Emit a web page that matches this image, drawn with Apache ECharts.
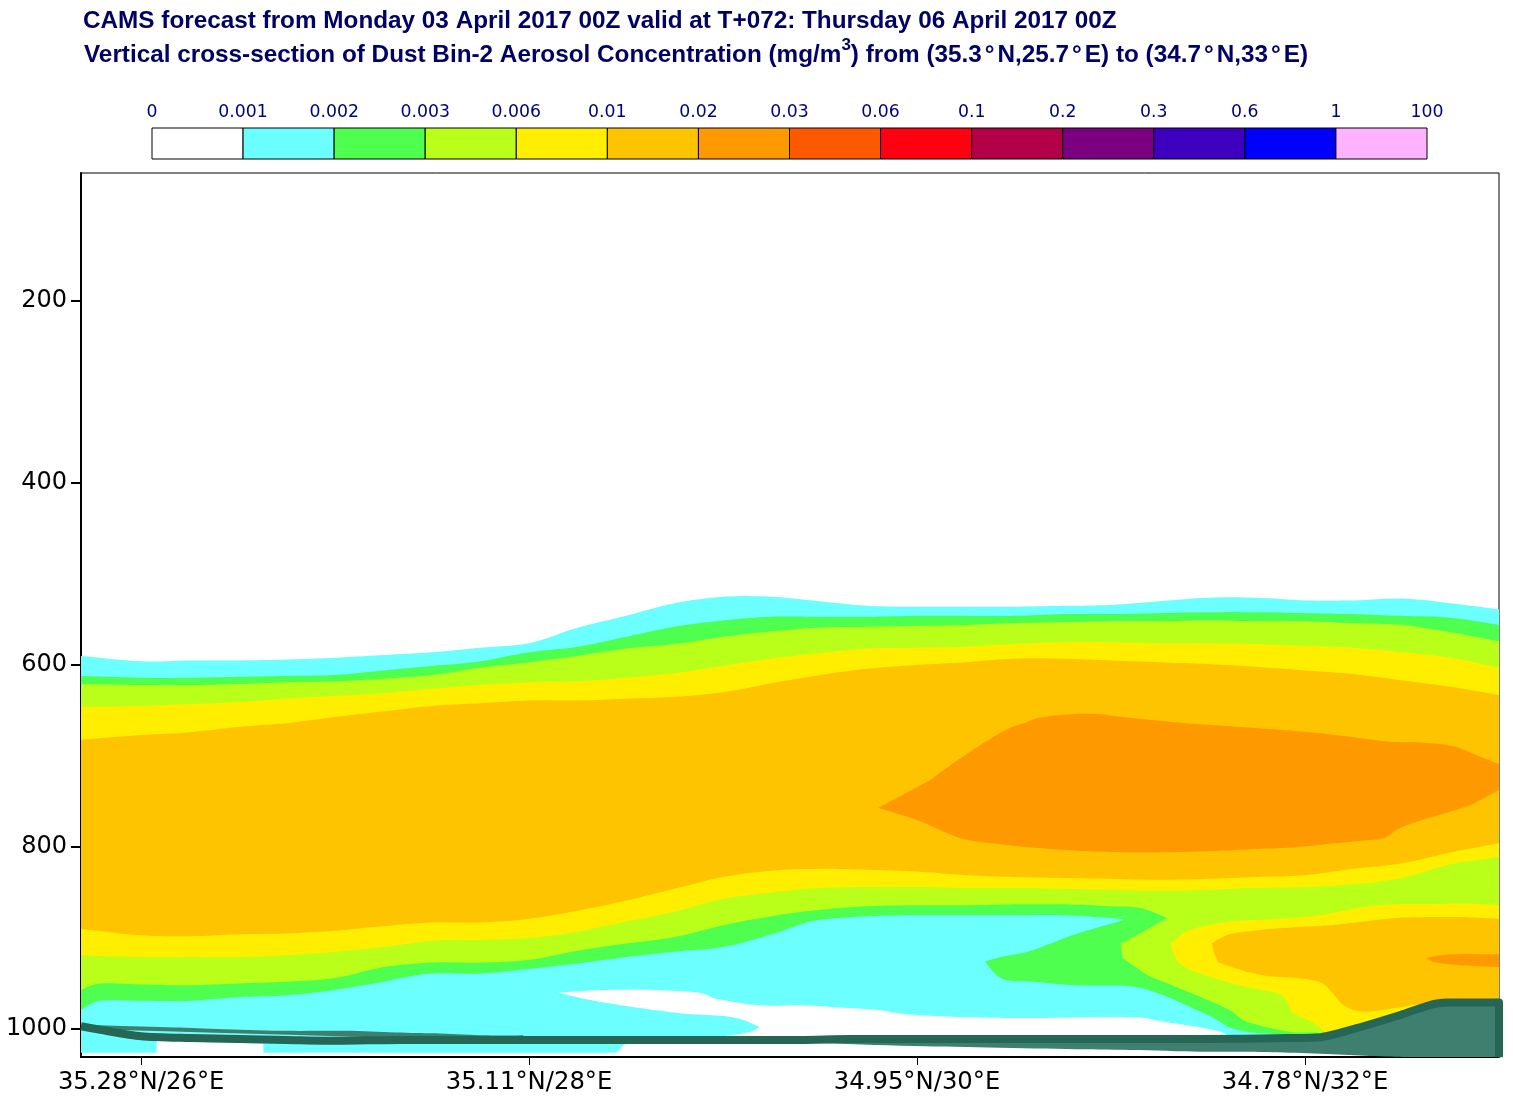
<!DOCTYPE html>
<html>
<head>
<meta charset="utf-8">
<title>CAMS dust cross-section</title>
<script src="https://cdn.jsdelivr.net/npm/echarts@6/dist/echarts.min.js"></script>
<style>
  html, body { margin: 0; padding: 0; background: #fff; }
  #chart { width: 1513px; height: 1101px; }
</style>
</head>
<body>
<div id="chart"></div>
<script>
// colour bar
const levels = ['0', '0.001', '0.002', '0.003', '0.006', '0.01', '0.02', '0.03', '0.06', '0.1', '0.2', '0.3', '0.6', '1', '100'];
const levelColors = ['#ffffff', '#6bffff', '#4fff4f', '#baff1a', '#ffee00', '#ffc400', '#ff9900', '#ff5900', '#ff0010', '#b30047', '#7a0080', '#3d00bf', '#0000ff', '#ffb3ff'];

// axes
const pressureTicks = [200, 400, 600, 800, 1000];
const lonTicks = [26, 28, 30, 32];
const lonTickLabels = ['35.28°N/26°E', '35.11°N/28°E', '34.95°N/30°E', '34.78°N/32°E'];

// longitudes shared by the long contours, pressures below are hPa read at these columns
const lons = [25.69, 26, 26.25, 26.5, 26.75, 27, 27.25, 27.5, 27.75, 28, 28.25, 28.5, 28.75, 29, 29.25, 29.5, 29.75, 30, 30.25, 30.5, 30.75, 31, 31.25, 31.5, 31.75, 32, 32.25, 32.5, 32.75, 33];

const cyanTop = [590, 596, 595, 595, 594, 592, 589, 586, 581, 576, 559, 546, 532, 525, 525, 530, 535, 536, 536, 536, 535, 534, 530, 526, 526, 529, 529, 527, 532, 539];
const greenTop = [612, 614, 614, 613, 612, 611, 606, 601, 596, 586, 580, 569, 558, 551, 547, 547, 547, 546, 546, 546, 544, 544, 543, 542, 542, 543, 544, 546, 548, 556];
const limeTop = [621, 622, 622, 621, 619, 618, 615, 611, 603, 597, 590, 582, 577, 569, 563, 559, 558, 557, 556, 554, 553, 552, 552, 551, 552, 552, 554, 556, 564, 574];
const yellowTop = [646, 645, 643, 641, 637, 634, 631, 626, 622, 619, 618, 614, 609, 601, 593, 587, 582, 581, 580, 577, 575, 575, 576, 576, 577, 579, 581, 586, 592, 603];
const orangeTop = [682, 677, 674, 668, 664, 657, 651, 645, 642, 639, 639, 637, 635, 630, 620, 611, 604, 600, 597, 593, 593, 595, 597, 599, 602, 606, 610, 617, 624, 633];
const orangeBottom = [890, 897, 898, 896, 895, 892, 887, 883, 883, 879, 870, 859, 846, 833, 826, 824, 825, 827, 831, 833, 834, 835, 836, 835, 833, 831, 824, 818, 806, 796];
const yellowBottom = [919, 921, 921, 921, 919, 915, 910, 903, 902, 900, 893, 882, 871, 857, 850, 845, 844, 844, 845, 845, 846, 847, 848, 847, 845, 844, 841, 834, 819, 811];

// lower edges and closed shapes, [lon, hPa]
const cyanLower = [[33, 974], [32.13, 1008], [31.68, 1007], [31.61, 1007], [31.53, 1001], [31.27, 992], [31.1, 987], [30.6, 988], [30.26, 987], [29.96, 984], [29.79, 979], [29.57, 976], [29.4, 974], [29.19, 974], [28.97, 967], [28.87, 960], [28.61, 957], [28.42, 957], [28.3, 958], [28.15, 960], [28.31, 968], [28.54, 976], [28.79, 983], [29.05, 987], [29.19, 998], [29.14, 1003], [29.04, 1007], [28.83, 1012], [28.49, 1017], [28.45, 1026], [26.63, 1026], [26.63, 1016], [26.08, 1013], [26.08, 1026], [25.69, 1026]];
const greenLower = [[33, 974], [32.13, 1008], [31.87, 1006], [31.7, 1003], [31.61, 998], [31.53, 988], [31.44, 979], [31.27, 963], [31.1, 953], [30.82, 952], [30.6, 948], [30.44, 945], [30.35, 926], [30.43, 921], [30.57, 915], [30.69, 906], [30.8, 897], [30.94, 888], [31.07, 880], [31, 878], [30.75, 875], [30.5, 875], [30.25, 875], [30, 875], [29.75, 876], [29.5, 880], [29.4, 885], [29.25, 896], [29, 910], [28.75, 915], [28.5, 921], [28.25, 928], [28, 934], [27.75, 939], [27.5, 939], [27.34, 944], [27.25, 948], [27, 957], [26.75, 963], [26.5, 965], [26.25, 969], [26, 969], [25.79, 969], [25.69, 979]];
const limeLower = [[33, 974], [32.13, 1008], [32.06, 1004], [31.92, 1003], [31.7, 992], [31.61, 979], [31.44, 963], [31.27, 948], [31.19, 941], [31.1, 928], [31.06, 922], [31.05, 906], [31.15, 895], [31.29, 878], [31.15, 867], [31, 865], [30.75, 863], [30.5, 863], [30.25, 864], [30, 864], [29.75, 865], [29.5, 869], [29.25, 876], [29, 886], [28.75, 899], [28.5, 906], [28.25, 914], [28, 924], [27.75, 927], [27.5, 927], [27.25, 932], [27, 944], [26.75, 948], [26.5, 950], [26.25, 952], [26, 951], [25.79, 950], [25.69, 957]];
const deepIsland = [[29.8, 757], [29.94, 741], [30.07, 726], [30.12, 718], [30.29, 693], [30.46, 671], [30.55, 664], [30.63, 658], [30.79, 654], [30.94, 654], [31.05, 657], [31.39, 664], [31.73, 669], [32.08, 675], [32.42, 684], [32.59, 685], [32.76, 689], [32.85, 696], [33, 709], [33, 737], [32.85, 754], [32.64, 768], [32.49, 779], [32.41, 790], [32.3, 793], [31.96, 800], [31.78, 802], [31.44, 805], [31.1, 806], [30.74, 803], [30.43, 797], [30.22, 790], [30.02, 772]];
const innerYellow = [[33, 864], [32.81, 862], [32.64, 863], [32.47, 863], [32.3, 866], [32.13, 873], [32, 877], [31.78, 880], [31.61, 882], [31.44, 889], [31.36, 897], [31.31, 906], [31.33, 921], [31.38, 932], [31.53, 944], [31.7, 954], [31.86, 961], [31.91, 971], [31.93, 982], [32.04, 993], [32.13, 1008], [33, 974]];
const innerOrange = [[33, 879], [32.81, 877], [32.64, 877], [32.47, 878], [32.3, 882], [32.13, 886], [31.96, 888], [31.78, 891], [31.61, 896], [31.52, 906], [31.54, 921], [31.58, 929], [31.78, 941], [31.96, 944], [32.08, 949], [32.14, 960], [32.2, 974], [32.3, 981], [32.47, 977], [32.63, 972], [33, 971]];
const innerDeep = [[33, 918], [32.75, 918], [32.62, 922], [32.68, 927], [32.81, 930], [33, 932]];
const groundFill = [[25.69, 995], [25.79, 996], [26.13, 998], [26.39, 1000], [26.73, 1002], [27.08, 1002], [27.34, 1004], [27.54, 1005], [27.78, 1007], [27.97, 1007], [27.98, 1012], [29.85, 1012], [31.92, 1012], [32.08, 1010], [32.3, 997], [32.47, 985], [32.64, 974], [32.73, 971], [33, 971], [33, 1031], [32.61, 1031], [32.39, 1030], [32.17, 1028], [31.92, 1026], [31.68, 1025], [31.46, 1025], [31.1, 1023], [30.77, 1022], [30.31, 1020], [29.85, 1018], [29.19, 1014], [27.98, 1013], [25.69, 1000]];
const groundLine = [[25.69, 997], [25.79, 1001], [26, 1008], [26.25, 1010], [26.5, 1011], [26.75, 1012], [27, 1013], [27.34, 1012], [27.6, 1012], [28, 1012], [28.37, 1012], [29.4, 1012], [29.65, 1011], [30.43, 1011], [31.46, 1011], [31.92, 1010], [32.08, 1009], [32.3, 997], [32.47, 986], [32.64, 974], [32.73, 971], [33, 971], [33, 1031]];

function column(values) {
  return values.map((p, i) => [lons[i], p]);
}

// painted back to front, white stays as the page background
const bands = [
  { color: levelColors[1], points: column(cyanTop).concat(cyanLower) },
  { color: levelColors[2], points: column(greenTop).concat(greenLower) },
  { color: levelColors[3], points: column(limeTop).concat(limeLower) },
  { color: levelColors[4], points: column(yellowTop).concat(column(yellowBottom).reverse()) },
  { color: levelColors[5], points: column(orangeTop).concat(column(orangeBottom).reverse()) },
  { color: levelColors[6], points: deepIsland },
  { color: levelColors[4], points: innerYellow },
  { color: levelColors[5], points: innerOrange },
  { color: levelColors[6], points: innerDeep },
  { color: '#3f7f6f', points: groundFill }
];

// round a closed outline on screen, keeping the sharp tips and corners
function roundOutline(pts) {
  const n = pts.length;
  const at = i => pts[(i + n) % n];
  const isCorner = i => {
    const a = at(i - 1), b = at(i), c = at(i + 1);
    const u = [b[0] - a[0], b[1] - a[1]], v = [c[0] - b[0], c[1] - b[1]];
    const cos = (u[0] * v[0] + u[1] * v[1]) / (Math.hypot(u[0], u[1]) * Math.hypot(v[0], v[1]) || 1);
    return cos < 0.75;
  };
  const out = [];
  for (let i = 0; i < n; i++) {
    const p1 = at(i), p2 = at(i + 1);
    const p0 = isCorner(i) ? p1 : at(i - 1);
    const p3 = isCorner(i + 1) ? p2 : at(i + 2);
    for (let s = 0; s < 8; s++) {
      const t = s / 8, t2 = t * t, t3 = t2 * t;
      out.push([0, 1].map(k => 0.5 * (2 * p1[k] + (p2[k] - p0[k]) * t +
        (2 * p0[k] - 5 * p1[k] + 4 * p2[k] - p3[k]) * t2 +
        (3 * p1[k] - p0[k] - 3 * p2[k] + p3[k]) * t3)));
    }
  }
  return out;
}

const navy = '#000066';
const titleFont = 'Liberation Sans';
const titleRun = { color: navy, fontFamily: titleFont, fontWeight: 'bold', fontSize: 24.3, verticalAlign: 'bottom', lineHeight: 30 };

const chart = echarts.init(document.getElementById('chart'), null, { renderer: 'canvas' });

chart.setOption({
  animation: false,
  backgroundColor: '#fff',
  title: [
    {
      text: 'CAMS forecast from Monday 03 April 2017 00Z valid at T+072: Thursday 06 April 2017 00Z',
      left: 83, top: 9, padding: 0,
      textStyle: { color: navy, fontFamily: titleFont, fontWeight: 'bold', fontSize: 24.3 }
    },
    {
      text: '{a|Vertical cross-section of Dust Bin-2 Aerosol Concentration (mg/m}{sup|3}{a|) from (35.3}{deg|°}{a|N,25.7}{deg|°}{a|E) to (34.7}{deg|°}{a|N,33}{deg|°}{a|E)}',
      left: 84, top: 37, padding: 0,
      textStyle: {
        rich: {
          a: titleRun,
          deg: Object.assign({}, titleRun, { padding: [0, 3, 0, 3] }),
          sup: { color: navy, fontFamily: titleFont, fontWeight: 'bold', fontSize: 17, verticalAlign: 'top', lineHeight: 24 }
        }
      }
    }
  ],
  grid: [
    { left: 81, top: 173, width: 1418, height: 884, show: true, borderColor: '#000', borderWidth: 1, backgroundColor: '#fff' },
    { left: 152, top: 128, width: 1275, height: 31 }
  ],
  xAxis: [
    {
      type: 'value', gridIndex: 0, min: 25.69, max: 33,
      splitLine: { show: false },
      axisLine: { show: true, onZero: false, lineStyle: { color: '#000', width: 2 } },
      axisTick: { show: true, length: 8, customValues: lonTicks, lineStyle: { color: '#000', width: 1 } },
      axisLabel: {
        customValues: lonTicks, color: '#000', fontFamily: 'DejaVu Sans', fontSize: 24.3, margin: 14,
        formatter: v => lonTickLabels[lonTicks.indexOf(v)]
      }
    },
    {
      type: 'value', gridIndex: 1, min: 0, max: 14, interval: 1, position: 'top',
      splitLine: { show: false }, axisLine: { show: false }, axisTick: { show: false },
      axisLabel: {
        color: '#000080', fontFamily: 'DejaVu Sans', fontSize: 17.3, margin: 7,
        formatter: v => levels[v]
      }
    }
  ],
  yAxis: [
    {
      type: 'value', gridIndex: 0, inverse: true, min: 59.3, max: 1030.8,
      splitLine: { show: false },
      axisLine: { show: true, onZero: false, lineStyle: { color: '#000', width: 2 } },
      axisTick: { show: true, length: 10, customValues: pressureTicks, lineStyle: { color: '#000', width: 2 } },
      axisLabel: {
        customValues: pressureTicks, color: '#000', fontFamily: 'DejaVu Sans', fontSize: 24, margin: 14,
        formatter: v => String(v), padding: [5, 0, 0, 0]
      }
    },
    { type: 'value', gridIndex: 1, min: 0, max: 1, show: false }
  ],
  series: [
    {
      type: 'custom', xAxisIndex: 0, yAxisIndex: 0, clip: true, silent: true,
      data: bands.map((b, i) => [b.points[0][0], b.points[0][1], i]),
      renderItem(params, api) {
        const band = bands[api.value(2)];
        return {
          type: 'polygon',
          shape: { points: roundOutline(band.points.map(p => api.coord(p))) },
          style: { fill: band.color, stroke: null }
        };
      },
      z: 2
    },
    {
      type: 'line', xAxisIndex: 0, yAxisIndex: 0, data: groundLine, clip: false, silent: true,
      showSymbol: false, smooth: 0.25,
      lineStyle: { color: '#266655', width: 8, join: 'round', cap: 'butt' },
      z: 3
    },
    {
      type: 'custom', xAxisIndex: 1, yAxisIndex: 1, silent: true,
      data: levelColors.map((c, i) => [i, 1]),
      renderItem(params, api) {
        const a = api.coord([api.value(0), 1]);
        const b = api.coord([api.value(0) + 1, 0]);
        return {
          type: 'rect',
          shape: { x: a[0], y: a[1], width: b[0] - a[0], height: b[1] - a[1] },
          style: { fill: levelColors[api.value(0)], stroke: '#000', lineWidth: 1 }
        };
      },
      z: 2
    }
  ]
});
</script>
</body>
</html>
